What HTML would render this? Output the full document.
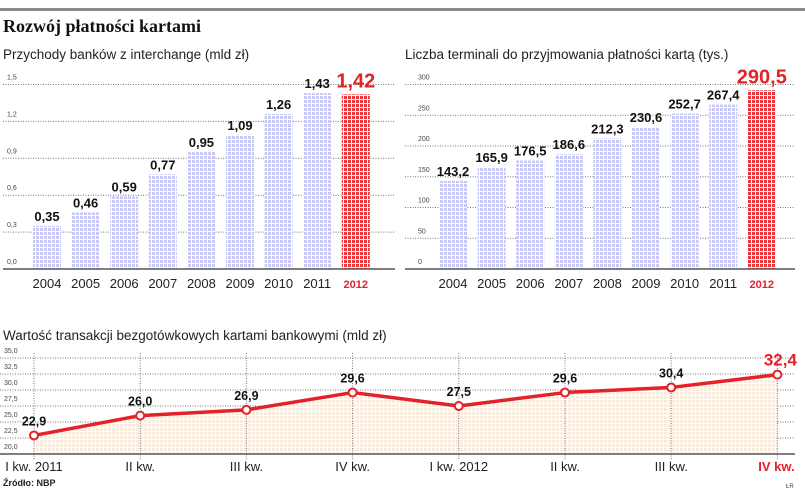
<!DOCTYPE html>
<html><head><meta charset="utf-8"><style>
html,body{margin:0;padding:0;background:#fff;}
svg{display:block;font-family:"Liberation Sans",sans-serif;}
</style></head><body>
<svg id="s" width="805" height="490" viewBox="0 0 805 490">
<defs>
<pattern id="pb" width="4" height="4" patternUnits="userSpaceOnUse"><rect width="4" height="4" fill="#c8c8f4"/><rect x="3" width="1" height="4" fill="#fff"/><rect y="3" width="4" height="1" fill="#fff"/></pattern>
<pattern id="pr" width="4" height="4" patternUnits="userSpaceOnUse"><rect width="4" height="4" fill="#e8383c"/><rect x="3" width="1" height="4" fill="#fff"/><rect y="3" width="4" height="1" fill="#fff"/></pattern>
<pattern id="pa" width="4" height="4" patternUnits="userSpaceOnUse"><rect width="4" height="4" fill="#f6ece0"/><rect x="3" width="1" height="4" fill="#fff"/><rect y="3" width="4" height="1" fill="#fff"/></pattern>
</defs>
<rect x="0" y="8" width="805" height="3" fill="#8a8a8a"/>
<text x="3" y="32" font-family="Liberation Serif,serif" font-weight="bold" font-size="18" fill="#111">Rozwój płatności kartami</text>
<text x="3" y="59" font-size="13.5" fill="#222">Przychody banków z interchange (mld zł)</text>
<text x="405" y="59" font-size="13.5" fill="#222">Liczba terminali do przyjmowania płatności kartą (tys.)</text>
<text x="3" y="340" font-size="13.5" fill="#222">Wartość transakcji bezgotówkowych kartami bankowymi (mld zł)</text>
<text x="3" y="486" font-size="9" font-weight="bold" fill="#222">Źródło: NBP</text>
<text x="786" y="488" font-size="6" fill="#444">ŁR</text>
<g id="g"></g>
</svg>
<script>
const years = ["2004","2005","2006","2007","2008","2009","2010","2011","2012"];
const revenue = [0.35,0.46,0.59,0.77,0.95,1.09,1.26,1.43,1.42];
const revenueLabels = ["0,35","0,46","0,59","0,77","0,95","1,09","1,26","1,43","1,42"];
const revenueTicks = [0,0.3,0.6,0.9,1.2,1.5];
const revenueTickLabels = ["0,0","0,3","0,6","0,9","1,2","1,5"];
const terminals = [143.2,165.9,176.5,186.6,212.3,230.6,252.7,267.4,290.5];
const terminalLabels = ["143,2","165,9","176,5","186,6","212,3","230,6","252,7","267,4","290,5"];
const terminalTicks = [0,50,100,150,200,250,300];
const quarters = ["I kw. 2011","II kw.","III kw.","IV kw.","I kw. 2012","II kw.","III kw.","IV kw."];
const transactions = [22.9,26.0,26.9,29.6,27.5,29.6,30.4,32.4];
const transactionLabels = ["22,9","26,0","26,9","29,6","27,5","29,6","30,4","32,4"];
const transTicks = [20,22.5,25,27.5,30,32.5,35];
const transTickLabels = ["20,0","22,5","25,0","27,5","30,0","32,5","35,0"];

const NS="http://www.w3.org/2000/svg";
const G=document.getElementById('g');
function mk(t,a,txt){const e=document.createElementNS(NS,t);for(const k in a)e.setAttribute(k,a[k]);if(txt!==undefined)e.textContent=txt;G.appendChild(e);return e;}

function barChart(prefix,vals,labels,ticks,tickLabels,yMax,x0,axisX0,axisX1,barX0){
  const base=269,top=84.5;
  const y=v=>base-(v/yMax)*(base-top);
  ticks.forEach((t,i)=>{
    if(t>0){const l=mk('line',{x1:axisX0,x2:axisX1,y1:y(t),y2:y(t),stroke:'#777','stroke-width':1,'stroke-dasharray':'1 1.5'});
    
    }
    const tl=mk('text',{x:x0,y:y(t)-5,'font-size':7,fill:'#444'},tickLabels[i]);
    
    
  });
  vals.forEach((v,i)=>{
    const last=i===vals.length-1;
    const bx=barX0+i*38.6;
    const r=mk('rect',{x:bx,y:y(v),width:28,height:base-y(v),fill:last?'url(#pr)':'url(#pb)'});
    
    
    const t=mk('text',{x:bx+14,y:y(v)-(last?7:5),'text-anchor':'middle','font-size':last?20:13,'font-weight':'bold',fill:last?'#e32229':'#111'},labels[i]);
    
    
    const yl=mk('text',{x:bx+14,y:288,'text-anchor':'middle','font-size':last?11:13,'font-weight':last?'bold':'normal',fill:last?'#e32229':'#222'},years[i]);
    
    
  });
  const ax=mk('line',{x1:axisX0,x2:axisX1,y1:base,y2:base,stroke:'#555','stroke-width':1.5});
  
  
}
barChart('revenue',revenue,revenueLabels,revenueTicks,revenueTickLabels,1.5,7,3,395,33);
barChart('terminals',terminals,terminalLabels,terminalTicks,terminalTicks.map(String),300,418,405,795,439);

// line chart
const lb=454,lt=358;
const ly=v=>lb-(v-20)/15*(lb-lt);
const lx=i=>34+i*106.2;
transTicks.forEach((t,i)=>{
  if(t>20){const l=mk('line',{x1:0,x2:795,y1:ly(t),y2:ly(t),stroke:'#777','stroke-width':1,'stroke-dasharray':'1 1.5'});
  
  }
  const tl=mk('text',{x:4,y:ly(t)-5,'font-size':7,fill:'#444'},transTickLabels[i]);
  
  
});
let area='M'+lx(0)+','+lb;
transactions.forEach((v,i)=>{area+=' L'+lx(i)+','+ly(v);});
area+=' L'+lx(transactions.length-1)+','+lb+' Z';
const ar=mk('path',{d:area,fill:'url(#pa)'});


quarters.forEach((q,i)=>{
  const vl=mk('line',{x1:lx(i),x2:lx(i),y1:lt-5,y2:lb+6,stroke:'#777','stroke-width':1,'stroke-dasharray':'1 1.5'});
  
  
  const last=i===quarters.length-1;
  const t=mk('text',{x:lx(i)+(last?-1:0),y:471,'text-anchor':'middle','font-size':last?13:13,'font-weight':last?'bold':'normal',fill:last?'#e32229':'#222'},q);
  
  
});
const ax=mk('line',{x1:0,x2:795,y1:lb,y2:lb,stroke:'#555','stroke-width':1.5});


const pl=mk('polyline',{points:transactions.map((v,i)=>lx(i)+','+ly(v)).join(' '),fill:'none',stroke:'#e32229','stroke-width':3.5,'stroke-linejoin':'round'});


transactions.forEach((v,i)=>{
  const last=i===transactions.length-1;
  const c=mk('circle',{cx:lx(i),cy:ly(v),r:4,fill:'#fff',stroke:'#e32229','stroke-width':2});
  
  
  const t=mk('text',{x:lx(i)+(last?3:0),y:ly(v)-(last?9:10),'text-anchor':'middle','font-size':last?17:12.5,'font-weight':'bold',fill:last?'#e32229':'#111'},transactionLabels[i]);
  
  
});
</script>
</body></html>
